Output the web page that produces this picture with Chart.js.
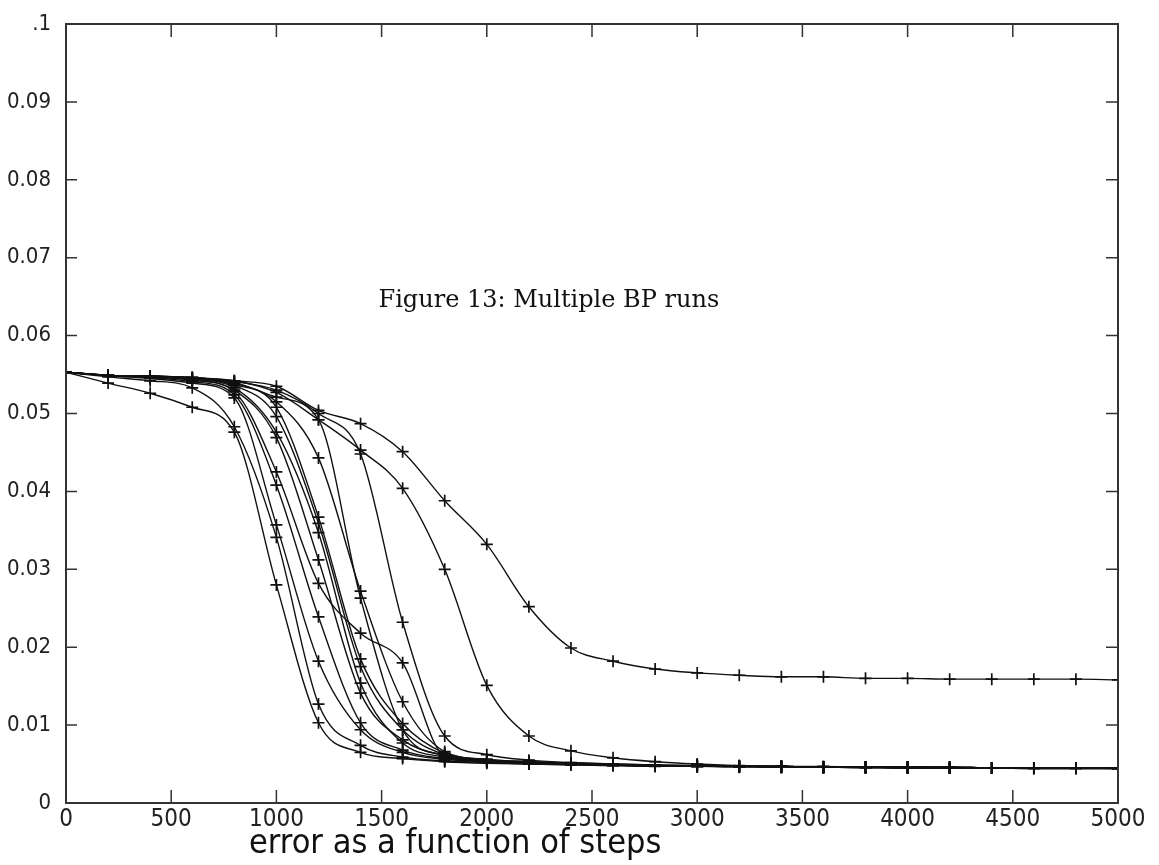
<!DOCTYPE html>
<html>
<head>
<meta charset="utf-8">
<script src="https://cdn.jsdelivr.net/npm/chart.js@4.4.1/dist/chart.umd.min.js"></script>
<style>
  html, body { margin: 0; padding: 0; background: #fff; }
  #wrap { width: 1159px; height: 865px; }
</style>
</head>
<body>
<div id="wrap"><canvas id="bpChart" width="1159" height="865"></canvas></div>
<script>
// training steps where the error was sampled
const steps = [0, 200, 400, 600, 800, 1000, 1200, 1400, 1600, 1800, 2000, 2200, 2400,
               2600, 2800, 3000, 3200, 3400, 3600, 3800, 4000, 4200, 4400, 4600, 4800, 5000];

// error per run
const run01 = [0.0553, 0.0539, 0.0526, 0.0508, 0.0476, 0.0280, 0.0103, 0.0065, 0.0057, 0.0053, 0.0051, 0.0050, 0.0049, 0.0048, 0.0047, 0.0047, 0.0046, 0.0046, 0.0046, 0.0045, 0.0045, 0.0045, 0.0045, 0.0044, 0.0044, 0.0044];
const run02 = [0.0553, 0.0547, 0.0542, 0.0533, 0.0483, 0.0341, 0.0127, 0.0074, 0.0059, 0.0054, 0.0052, 0.0050, 0.0049, 0.0048, 0.0048, 0.0047, 0.0047, 0.0046, 0.0046, 0.0046, 0.0045, 0.0045, 0.0045, 0.0045, 0.0045, 0.0044];
const run03 = [0.0553, 0.0548, 0.0545, 0.0539, 0.0520, 0.0357, 0.0182, 0.0094, 0.0065, 0.0056, 0.0053, 0.0051, 0.0050, 0.0049, 0.0048, 0.0047, 0.0047, 0.0046, 0.0046, 0.0046, 0.0045, 0.0045, 0.0045, 0.0045, 0.0045, 0.0045];
const run04 = [0.0553, 0.0549, 0.0546, 0.0541, 0.0524, 0.0408, 0.0239, 0.0103, 0.0068, 0.0057, 0.0053, 0.0051, 0.0050, 0.0049, 0.0048, 0.0047, 0.0047, 0.0047, 0.0046, 0.0046, 0.0046, 0.0045, 0.0045, 0.0045, 0.0045, 0.0045];
const run05 = [0.0553, 0.0549, 0.0547, 0.0543, 0.0528, 0.0425, 0.0282, 0.0218, 0.0180, 0.0060, 0.0054, 0.0052, 0.0050, 0.0049, 0.0048, 0.0048, 0.0047, 0.0047, 0.0046, 0.0046, 0.0046, 0.0045, 0.0045, 0.0045, 0.0045, 0.0045];
const run06 = [0.0553, 0.0549, 0.0547, 0.0543, 0.0530, 0.0469, 0.0312, 0.0141, 0.0081, 0.0061, 0.0055, 0.0052, 0.0050, 0.0049, 0.0048, 0.0048, 0.0047, 0.0047, 0.0046, 0.0046, 0.0046, 0.0045, 0.0045, 0.0045, 0.0045, 0.0045];
const run07 = [0.0553, 0.0549, 0.0547, 0.0544, 0.0533, 0.0476, 0.0347, 0.0154, 0.0077, 0.0059, 0.0054, 0.0051, 0.0050, 0.0049, 0.0048, 0.0047, 0.0047, 0.0046, 0.0046, 0.0046, 0.0045, 0.0045, 0.0045, 0.0045, 0.0045, 0.0045];
const run08 = [0.0553, 0.0549, 0.0548, 0.0545, 0.0536, 0.0496, 0.0359, 0.0175, 0.0094, 0.0062, 0.0055, 0.0052, 0.0050, 0.0049, 0.0048, 0.0048, 0.0047, 0.0047, 0.0046, 0.0046, 0.0046, 0.0046, 0.0045, 0.0045, 0.0045, 0.0045];
const run09 = [0.0553, 0.0549, 0.0548, 0.0545, 0.0537, 0.0508, 0.0367, 0.0185, 0.0102, 0.0064, 0.0056, 0.0053, 0.0051, 0.0049, 0.0048, 0.0048, 0.0047, 0.0047, 0.0046, 0.0046, 0.0046, 0.0046, 0.0045, 0.0045, 0.0045, 0.0045];
const run10 = [0.0553, 0.0549, 0.0548, 0.0546, 0.0539, 0.0515, 0.0443, 0.0272, 0.0130, 0.0066, 0.0056, 0.0053, 0.0051, 0.0050, 0.0049, 0.0048, 0.0047, 0.0047, 0.0046, 0.0046, 0.0046, 0.0046, 0.0045, 0.0045, 0.0045, 0.0045];
const run11 = [0.0553, 0.0549, 0.0548, 0.0546, 0.0540, 0.0521, 0.0492, 0.0263, 0.0094, 0.0061, 0.0055, 0.0052, 0.0050, 0.0049, 0.0048, 0.0048, 0.0047, 0.0047, 0.0046, 0.0046, 0.0046, 0.0045, 0.0045, 0.0045, 0.0045, 0.0045];
const run12 = [0.0553, 0.0549, 0.0548, 0.0546, 0.0541, 0.0530, 0.0500, 0.0448, 0.0232, 0.0086, 0.0062, 0.0055, 0.0052, 0.0050, 0.0049, 0.0048, 0.0047, 0.0047, 0.0046, 0.0046, 0.0046, 0.0046, 0.0045, 0.0045, 0.0045, 0.0045];
const run13 = [0.0553, 0.0549, 0.0548, 0.0546, 0.0542, 0.0527, 0.0492, 0.0453, 0.0404, 0.0300, 0.0151, 0.0086, 0.0067, 0.0058, 0.0053, 0.0050, 0.0048, 0.0047, 0.0047, 0.0046, 0.0046, 0.0046, 0.0045, 0.0045, 0.0045, 0.0045];
const run14 = [0.0553, 0.0549, 0.0548, 0.0546, 0.0542, 0.0535, 0.0504, 0.0487, 0.0451, 0.0388, 0.0332, 0.0252, 0.0199, 0.0182, 0.0172, 0.0167, 0.0164, 0.0162, 0.0162, 0.0160, 0.0160, 0.0159, 0.0159, 0.0159, 0.0159, 0.0158];

const runs = [run01, run02, run03, run04, run05, run06, run07, run08, run09, run10, run11, run12, run13, run14];

const xTicks = [0, 500, 1000, 1500, 2000, 2500, 3000, 3500, 4000, 4500, 5000];
const yTicks = [0, 0.01, 0.02, 0.03, 0.04, 0.05, 0.06, 0.07, 0.08, 0.09, 0.1];
const yTickLabels = ['0', '0.01', '0.02', '0.03', '0.04', '0.05', '0.06', '0.07', '0.08', '0.09', '.1'];

const figTitle = 'Figure 13: Multiple BP runs';
const xTitle = 'error as a function of steps';

const narrow = "'Liberation Sans Narrow', 'DejaVu Sans Condensed', 'DejaVu Sans', sans-serif";
const ink = '#111';

// frame, inward ticks on all four sides, caption and axis title
const framePlugin = {
    id: 'frame',
    afterDraw(chart) {
        const { ctx, chartArea: a, scales } = chart;
        ctx.save();
        ctx.strokeStyle = '#333';
        ctx.lineWidth = 2;
        ctx.strokeRect(a.left, a.top, a.right - a.left, a.bottom - a.top);

        ctx.lineWidth = 1.5;
        ctx.beginPath();
        xTicks.forEach(v => {
            const px = scales.x.getPixelForValue(v);
            ctx.moveTo(px, a.bottom); ctx.lineTo(px, a.bottom - 13);
            ctx.moveTo(px, a.top); ctx.lineTo(px, a.top + 13);
        });
        yTicks.forEach(v => {
            const py = scales.y.getPixelForValue(v);
            ctx.moveTo(a.left, py); ctx.lineTo(a.left + 11, py);
            ctx.moveTo(a.right, py); ctx.lineTo(a.right - 12, py);
        });
        ctx.stroke();

        ctx.fillStyle = '#111';
        ctx.font = "24px 'DejaVu Serif', serif";
        ctx.textAlign = 'center';
        ctx.textBaseline = 'middle';
        ctx.fillText(figTitle, scales.x.getPixelForValue(2295), scales.y.getPixelForValue(0.0645));

        ctx.font = '34px ' + narrow;
        ctx.textBaseline = 'alphabetic';
        ctx.fillText(xTitle, scales.x.getPixelForValue(1850), 853);
        ctx.restore();
    }
};

new Chart(document.getElementById('bpChart').getContext('2d'), {
    type: 'line',
    data: {
        labels: steps,
        datasets: runs.map((r, i) => ({
            label: 'run ' + (i + 1),
            data: steps.map((s, j) => ({ x: s, y: r[j] })),
            borderColor: ink,
            borderWidth: 1.4,
            cubicInterpolationMode: 'monotone',
            pointStyle: 'cross',
            pointRadius: 6,
            pointBorderWidth: 1.7,
            pointBorderColor: ink,
            pointBackgroundColor: ink,
            fill: false
        }))
    },
    options: {
        responsive: false,
        animation: false,
        layout: { padding: { left: 0, right: 41, top: 24, bottom: 0 } },
        plugins: {
            legend: { display: false },
            tooltip: { enabled: false }
        },
        scales: {
            x: {
                type: 'linear',
                min: 0,
                max: 5000,
                afterFit: s => { s.height = 62; s.paddingLeft = 0; s.paddingRight = 0; },
                afterBuildTicks: s => { s.ticks = xTicks.map(v => ({ value: v })); },
                grid: { display: false, drawTicks: false },
                border: { display: false },
                ticks: {
                    color: '#222',
                    padding: 2,
                    maxRotation: 0,
                    font: { family: narrow, size: 24 },
                    callback: v => String(v)
                }
            },
            y: {
                min: 0,
                max: 0.1,
                afterFit: s => { s.width = 66; s.paddingTop = 0; s.paddingBottom = 0; },
                afterBuildTicks: s => { s.ticks = yTicks.map(v => ({ value: v })); },
                grid: { display: false, drawTicks: false },
                border: { display: false },
                ticks: {
                    color: '#222',
                    padding: 15,
                    font: { family: narrow, size: 22 },
                    callback: (v, i) => yTickLabels[i]
                }
            }
        }
    },
    plugins: [framePlugin]
});
</script>
</body>
</html>
